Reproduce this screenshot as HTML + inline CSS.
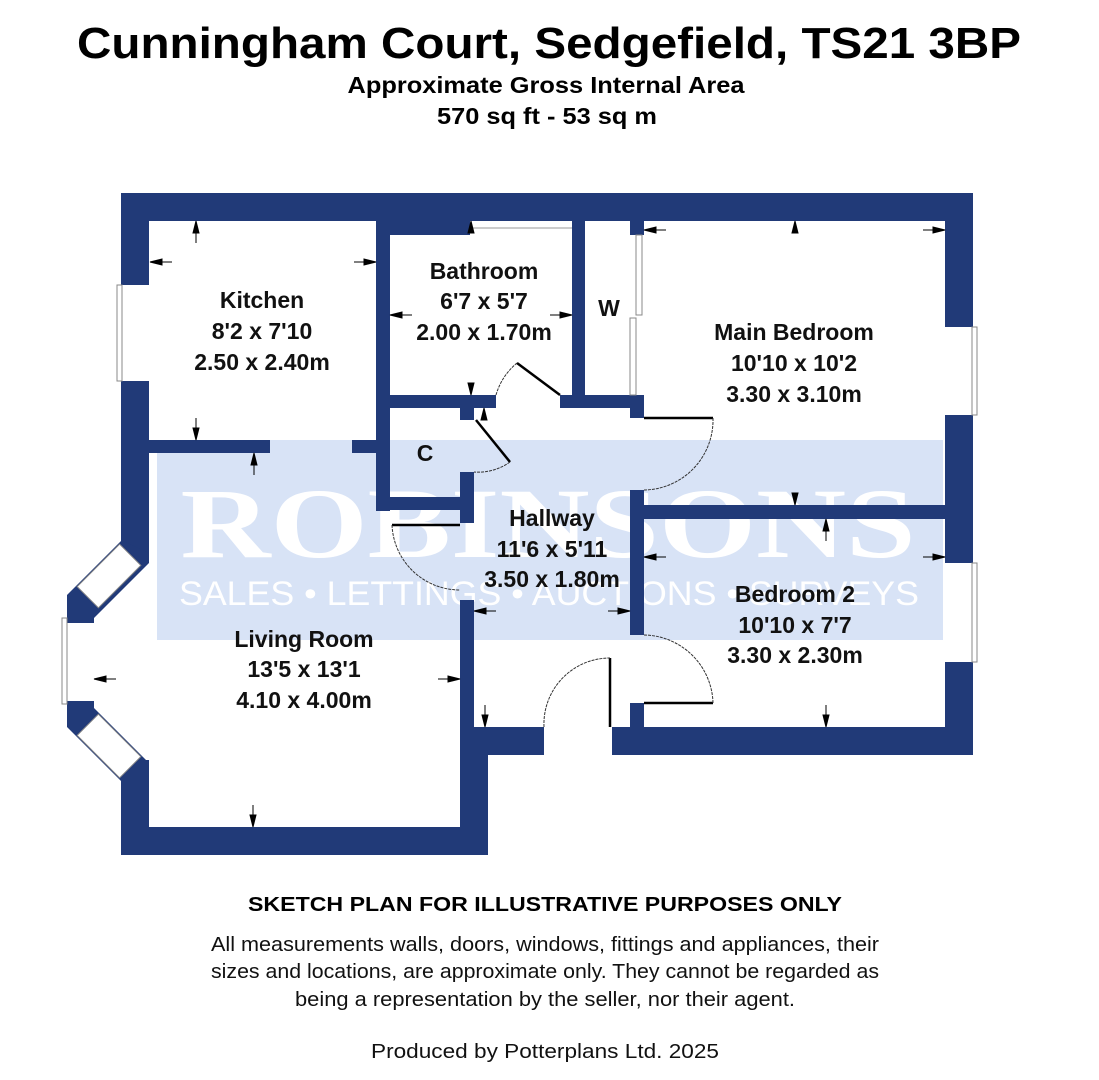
<!DOCTYPE html>
<html><head><meta charset="utf-8"><style>
html,body{margin:0;padding:0;background:#fff;}
svg{display:block;}
.s{font-family:"Liberation Sans",sans-serif;}
.serif{font-family:"Liberation Serif",serif;}
</style></head><body>
<svg width="1099" height="1080" viewBox="0 0 1099 1080" xmlns="http://www.w3.org/2000/svg">
<rect width="1099" height="1080" fill="#fff"/>
<text class="s" x="549" y="58" font-size="44" font-weight="bold" text-anchor="middle" textLength="944" lengthAdjust="spacingAndGlyphs">Cunningham Court, Sedgefield, TS21 3BP</text>
<text class="s" x="546" y="93" font-size="23" font-weight="bold" text-anchor="middle" textLength="397" lengthAdjust="spacingAndGlyphs">Approximate Gross Internal Area</text>
<text class="s" x="547" y="124" font-size="23" font-weight="bold" text-anchor="middle" textLength="220" lengthAdjust="spacingAndGlyphs">570 sq ft - 53 sq m</text>

<!-- watermark -->
<rect x="157" y="440" width="786" height="200" fill="#d8e3f6"/>
<text class="serif" x="548" y="557" font-size="100" font-weight="bold" fill="#fff" text-anchor="middle" textLength="735" lengthAdjust="spacingAndGlyphs">ROBINSONS</text>
<text class="s" x="549" y="605" font-size="34" fill="#fff" text-anchor="middle" textLength="740" lengthAdjust="spacingAndGlyphs">SALES • LETTINGS • AUCTIONS • SURVEYS</text>

<g fill="#213a78">
<rect x="121" y="193" width="852" height="28"/>
<rect x="390" y="221" width="80" height="14"/>
<rect x="945" y="193" width="28" height="562"/>
<rect x="121" y="193" width="28" height="360"/>
<polygon points="121,540 149,553 149,563 94,618 94,708 149,763 149,775 121,790 121,781 67,727 67,595 121,541"/>
<rect x="121" y="760" width="28" height="95"/>
<rect x="121" y="827" width="367" height="28"/>
<rect x="460" y="727" width="28" height="128"/>
<rect x="460" y="600" width="14" height="130"/>
<rect x="460" y="727" width="84" height="28"/>
<rect x="612" y="727" width="361" height="28"/>
<rect x="630" y="505" width="14" height="130"/>
<rect x="630" y="703" width="14" height="26"/>
<rect x="630" y="505" width="315" height="14"/>
<rect x="630" y="221" width="14" height="14"/>
<rect x="630" y="395" width="14" height="23"/>
<rect x="630" y="490" width="14" height="18"/>
<rect x="560" y="395" width="84" height="13"/>
<rect x="572" y="221" width="13" height="180"/>
<rect x="376" y="221" width="14" height="290"/>
<rect x="376" y="395" width="120" height="13"/>
<rect x="460" y="405" width="14" height="15"/>
<rect x="149" y="440" width="121" height="13"/>
<rect x="352" y="440" width="30" height="13"/>
<rect x="376" y="497" width="98" height="13"/>
<rect x="460" y="472" width="14" height="51"/>
</g>

<g fill="#fff" stroke="#888" stroke-width="1">
<rect x="121" y="285" width="28" height="96" stroke="none"/>
<rect x="117" y="285" width="5" height="96"/>
<rect x="945" y="327" width="28" height="88" stroke="none"/>
<rect x="972" y="327" width="5" height="88"/>
<rect x="945" y="563" width="28" height="99" stroke="none"/>
<rect x="972" y="563" width="5" height="99"/>
<rect x="67" y="623" width="27" height="78" stroke="none"/>
<rect x="62" y="618" width="5" height="86"/>
<rect x="79" y="561" width="60" height="30" transform="rotate(-45 109 576)"/>
<rect x="79" y="731" width="60" height="30" transform="rotate(45 109 746)"/>
<rect x="636" y="235" width="6" height="80"/>
<rect x="630" y="318" width="6" height="77"/>
</g>
<line x1="470" y1="228" x2="572" y2="228" stroke="#999" stroke-width="1"/>

<g fill="none" stroke="#000" stroke-width="2.5">
<line x1="517" y1="363" x2="560" y2="395"/>
<line x1="476" y1="420" x2="510" y2="462"/>
<line x1="392" y1="525" x2="460" y2="525"/>
<line x1="644" y1="418" x2="713" y2="418"/>
<line x1="644" y1="703" x2="713" y2="703"/>
<line x1="610" y1="658" x2="610" y2="727"/>
</g>
<g fill="none" stroke="#333" stroke-width="1" stroke-dasharray="3,1">
<path d="M496,395 A64,64 0 0 1 517,363"/>
<path d="M510,462 A55,55 0 0 1 474,472"/>
<path d="M392,525 A68,68 0 0 0 460,590"/>
<path d="M713,418 A70,70 0 0 1 644,490"/>
<path d="M644,635 A70,70 0 0 1 713,703"/>
<path d="M544,727 A66,66 0 0 1 610,658"/>
</g>

<g stroke="#000" stroke-width="1" fill="#000">
<path d="M150,262 l12,-3 v6z"/><line x1="150" y1="262" x2="172" y2="262"/>
<path d="M376,262 l-12,-3 v6z"/><line x1="376" y1="262" x2="354" y2="262"/>
<path d="M196,221 l-3,12 h6z"/><line x1="196" y1="221" x2="196" y2="243"/>
<path d="M196,440 l-3,-12 h6z"/><line x1="196" y1="440" x2="196" y2="418"/>
<path d="M254,453 l-3,12 h6z"/><line x1="254" y1="453" x2="254" y2="475"/>
<path d="M390,315 l12,-3 v6z"/><line x1="390" y1="315" x2="412" y2="315"/>
<path d="M572,315 l-12,-3 v6z"/><line x1="572" y1="315" x2="550" y2="315"/>
<path d="M471,221 l-3,12 h6z"/>
<path d="M471,395 l-3,-12 h6z"/><line x1="471" y1="395" x2="471" y2="383"/>
<path d="M484,408 l-3,12 h6z"/>
<path d="M644,230 l12,-3 v6z"/><line x1="644" y1="230" x2="666" y2="230"/>
<path d="M945,230 l-12,-3 v6z"/><line x1="945" y1="230" x2="923" y2="230"/>
<path d="M795,221 l-3,12 h6z"/>
<path d="M795,505 l-3,-12 h6z"/>
<path d="M826,519 l-3,12 h6z"/><line x1="826" y1="519" x2="826" y2="541"/>
<path d="M644,557 l12,-3 v6z"/><line x1="644" y1="557" x2="666" y2="557"/>
<path d="M945,557 l-12,-3 v6z"/><line x1="945" y1="557" x2="923" y2="557"/>
<path d="M826,727 l-3,-12 h6z"/><line x1="826" y1="727" x2="826" y2="705"/>
<path d="M474,611 l12,-3 v6z"/><line x1="474" y1="611" x2="496" y2="611"/>
<path d="M630,611 l-12,-3 v6z"/><line x1="630" y1="611" x2="608" y2="611"/>
<path d="M485,727 l-3,-12 h6z"/><line x1="485" y1="727" x2="485" y2="705"/>
<path d="M94,679 l12,-3 v6z"/><line x1="94" y1="679" x2="116" y2="679"/>
<path d="M460,679 l-12,-3 v6z"/><line x1="460" y1="679" x2="438" y2="679"/>
<path d="M253,827 l-3,-12 h6z"/><line x1="253" y1="827" x2="253" y2="805"/>
</g>

<g class="s" font-size="23" font-weight="bold" text-anchor="middle" fill="#111">
<text x="262" y="308">Kitchen</text>
<text x="262" y="339">8'2 x 7'10</text>
<text x="262" y="370">2.50 x 2.40m</text>
<text x="484" y="279">Bathroom</text>
<text x="484" y="309">6'7 x 5'7</text>
<text x="484" y="340">2.00 x 1.70m</text>
<text x="609" y="316">W</text>
<text x="794" y="340">Main Bedroom</text>
<text x="794" y="371">10'10 x 10'2</text>
<text x="794" y="402">3.30 x 3.10m</text>
<text x="425" y="461">C</text>
<text x="552" y="526">Hallway</text>
<text x="552" y="557">11'6 x 5'11</text>
<text x="552" y="587">3.50 x 1.80m</text>
<text x="795" y="602">Bedroom 2</text>
<text x="795" y="633">10'10 x 7'7</text>
<text x="795" y="663">3.30 x 2.30m</text>
<text x="304" y="647">Living Room</text>
<text x="304" y="677">13'5 x 13'1</text>
<text x="304" y="708">4.10 x 4.00m</text>
</g>

<text class="s" x="545" y="911" font-size="20" font-weight="bold" text-anchor="middle" textLength="594" lengthAdjust="spacingAndGlyphs">SKETCH PLAN FOR ILLUSTRATIVE PURPOSES ONLY</text>
<g class="s" font-size="20" text-anchor="middle" fill="#111">
<text x="545" y="951" textLength="668" lengthAdjust="spacingAndGlyphs">All measurements walls, doors, windows, fittings and appliances, their</text>
<text x="545" y="978" textLength="668" lengthAdjust="spacingAndGlyphs">sizes and locations, are approximate only. They cannot be regarded as</text>
<text x="545" y="1006" textLength="500" lengthAdjust="spacingAndGlyphs">being a representation by the seller, nor their agent.</text>
<text x="545" y="1058" textLength="348" lengthAdjust="spacingAndGlyphs">Produced by Potterplans Ltd. 2025</text>
</g>
</svg>
</body></html>
